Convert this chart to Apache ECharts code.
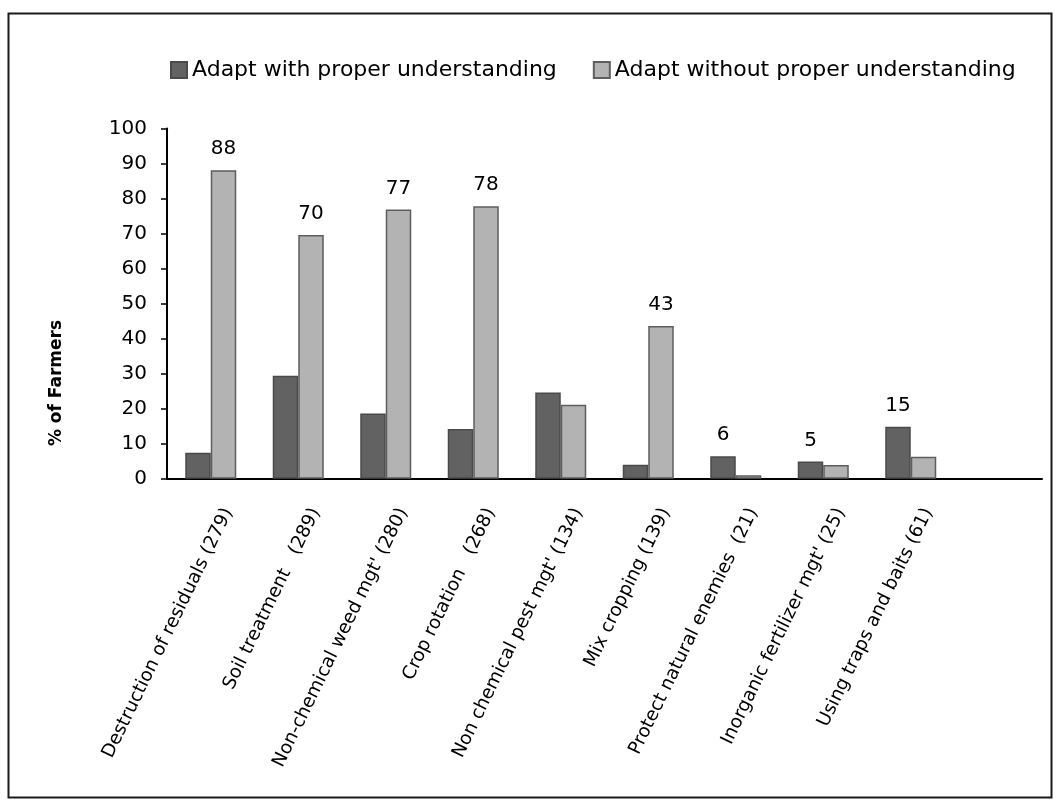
<!DOCTYPE html>
<html>
<head>
<meta charset="utf-8">
<script src="https://cdn.jsdelivr.net/npm/echarts@6/dist/echarts.min.js"></script>
<style>
  html, body { margin: 0; padding: 0; background: #ffffff; }
  #chart { width: 1060px; height: 807px; }
</style>
</head>
<body>
<div id="chart"></div>
<script>
// ---- data ----
const categories = [
  "Destruction of residuals (279)",
  "Soil treatment   (289)",
  "Non-chemical weed mgt' (280)",
  "Crop rotation   (268)",
  "Non chemical pest mgt' (134)",
  "Mix cropping (139)",
  "Protect natural enemies  (21)",
  "Inorganic fertilizer mgt' (25)",
  "Using traps and baits (61)",
  ""
];
const withUnderstanding    = [7.4, 29.4, 18.6, 14.2, 24.6, 4.0, 6.4, 4.9, 14.8, null];
const withoutUnderstanding = [88.1, 69.6, 76.9, 77.8, 21.1, 43.6, 1.0, 3.9, 6.3, null];
const withLabels    = ["", "", "", "", "", "", "6", "5", "15", ""];
const withoutLabels = ["88", "70", "77", "78", "", "43", "", "", "", ""];
const yTicks = { min: 0, max: 100, interval: 10 };
const seriesNames = ["Adapt with proper understanding", "Adapt without proper understanding"];

function buildData(values, labels) {
  return values.map(function (v, i) {
    return {
      value: v,
      label: { show: labels[i] !== "", formatter: labels[i] }
    };
  });
}

const chart = echarts.init(document.getElementById('chart'), null, { renderer: 'canvas' });

const labelStyle = {
  position: 'top',
  distance: 11,
  fontFamily: 'DejaVu Sans',
  fontSize: 20,
  color: '#000000'
};

chart.setOption({
  animation: false,
  backgroundColor: '#ffffff',
  graphic: [
    {
      type: 'rect',
      shape: { x: 8.5, y: 13.5, width: 1043, height: 784 },
      style: { fill: 'none', stroke: '#1a1a1a', lineWidth: 2 },
      silent: true,
      z: -1
    },
    {
      type: 'text',
      x: 57, y: 383,
      rotation: Math.PI / 2,
      style: {
        text: '% of Farmers',
        fontFamily: 'DejaVu Sans',
        fontWeight: 'bold',
        fontSize: 17,
        fill: '#000000',
        align: 'center',
        verticalAlign: 'middle'
      }
    }
  ],
  legend: {
    left: 165,
    top: 54,
    itemWidth: 16,
    itemHeight: 16,
    itemGap: 36,
    icon: 'rect',
    textStyle: { fontFamily: 'DejaVu Sans', fontSize: 22, color: '#000000' },
    data: seriesNames
  },
  grid: {
    left: 167,
    right: 18,
    top: 128.5,
    bottom: 328.3,
    containLabel: false
  },
  xAxis: {
    type: 'category',
    data: categories,
    axisLine: { lineStyle: { color: '#000000', width: 2 } },
    axisTick: { show: false },
    axisLabel: {
      interval: 0,
      rotate: 64,
      margin: 22,
      verticalAlign: 'top',
      padding: [10, 0, 0, 0],
      fontFamily: 'DejaVu Sans',
      fontSize: 18.5,
      color: '#000000'
    }
  },
  yAxis: {
    type: 'value',
    min: yTicks.min,
    max: yTicks.max,
    interval: yTicks.interval,
    axisLine: { show: true, lineStyle: { color: '#000000', width: 2 } },
    axisTick: { show: true, inside: false, length: 6, lineStyle: { color: '#000000', width: 1.5 } },
    splitLine: { show: false },
    axisLabel: {
      margin: 20,
      fontFamily: 'DejaVu Sans',
      fontSize: 20,
      color: '#000000'
    }
  },
  series: [
    {
      name: seriesNames[0],
      type: 'bar',
      barWidth: 25.5,
      barGap: '0%',
      itemStyle: { color: '#626262', borderColor: '#4a4a4a', borderWidth: 1.5 },
      label: labelStyle,
      data: buildData(withUnderstanding, withLabels)
    },
    {
      name: seriesNames[1],
      type: 'bar',
      barWidth: 25.5,
      barGap: '0%',
      itemStyle: { color: '#b3b3b3', borderColor: '#5e5e5e', borderWidth: 1.5 },
      label: labelStyle,
      data: buildData(withoutUnderstanding, withoutLabels)
    }
  ]
});
</script>
</body>
</html>
